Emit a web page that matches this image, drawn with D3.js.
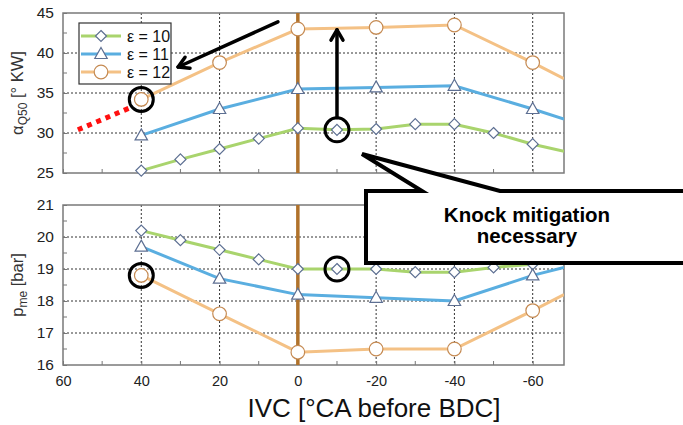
<!DOCTYPE html>
<html><head><meta charset="utf-8">
<script src="https://cdn.jsdelivr.net/npm/d3@7"></script>
<style>
body{margin:0;background:#fff}
svg{display:block;font-family:"Liberation Sans",Arial,sans-serif}
</style>
</head><body><svg id="chart" width="683" height="425"></svg>
<script>
// IVC timing in °CA before BDC. The last value of each series continues the curve to the axis edge (no marker).
const ivcFine   = [40, 30, 20, 10, 0, -10, -20, -30, -40, -50, -60, -68];
const ivcCoarse = [40, 20, 0, -20, -40, -60, -68];

// 50 % mass fraction burned point, ° KW
const alphaE10 = [25.3, 26.7, 28.0, 29.3, 30.6, 30.4, 30.5, 31.1, 31.1, 30.0, 28.6, 27.7];
const alphaE11 = [29.7, 33.0, 35.5, 35.7, 35.9, 33.0, 31.75];
const alphaE12 = [34.2, 38.8, 43.0, 43.2, 43.5, 38.8, 36.8];

// Mean effective pressure, bar
const pmeE10 = [20.2, 19.9, 19.6, 19.3, 19.0, 19.0, 19.0, 18.9, 18.9, 19.05, 19.15, 19.25];
const pmeE11 = [19.7, 18.7, 18.2, 18.1, 18.0, 18.8, 19.05];
const pmeE12 = [18.8, 17.6, 16.4, 16.5, 16.5, 17.7, 18.2];

const seriesNames = ["ε = 10", "ε = 11", "ε = 12"];

const xTicks = [60, 40, 20, 0, -20, -40, -60];
const xMinor = [50, 30, 10, -10, -30, -50];
const alphaTicks = [25, 30, 35, 40, 45];
const alphaMinor = [27.5, 32.5, 37.5, 42.5];
const pmeTicks = [16, 17, 18, 19, 20, 21];
const pmeMinor = [16.5, 17.5, 18.5, 19.5, 20.5];

// Extrapolated trend of the ε = 12 αQ50 curve towards earlier IVC
const trendIvc = [56.2, 42.4];
const trendAlpha = [30.4, 33.25];

const svg = d3.select("#chart");
const L = 63, R = 564;
const top1 = 13, bot1 = 173, top2 = 205, bot2 = 365;

const x = d3.scaleLinear().domain([60, -68]).range([L, R]);
const yA = d3.scaleLinear().domain([25, 45]).range([bot1, top1]);
const yP = d3.scaleLinear().domain([16, 21]).range([bot2, top2]);

// plain hyphen-minus labels
const fmt = d => String(d);

const style = [
  {line: "#a9d46d", stroke: "#5d6f92", shape: "diamond"},
  {line: "#5aaee0", stroke: "#5d6f92", shape: "triangle"},
  {line: "#f4c185", stroke: "#c58a52", shape: "circle"}
];

function markerPath(shape) {
  if (shape === "diamond") return "M0,-5.5L5.5,0L0,5.5L-5.5,0Z";
  if (shape === "triangle") return "M0,-6.5L6.2,4.5L-6.2,4.5Z";
  return d3.symbol(d3.symbolCircle, Math.PI * 6.8 * 6.8)();
}

const defs = svg.append("defs");
[["clipA", top1, bot1], ["clipP", top2, bot2]].forEach(([id, t, b]) => {
  defs.append("clipPath").attr("id", id).append("rect")
    .attr("x", L).attr("y", t).attr("width", R - L).attr("height", b - t);
});

function panel(yScale, t, b, ticks, minor, clipId, data, showXLabels) {
  const g = svg.append("g");
  // grid
  g.selectAll(".gx").data(xTicks.filter(v => v < 60 && v > -68)).join("line")
    .attr("x1", d => x(d)).attr("x2", d => x(d)).attr("y1", t).attr("y2", b)
    .attr("stroke", "#333").attr("stroke-width", 1).attr("stroke-dasharray", "2,2");
  g.selectAll(".gy").data(ticks.slice(1, -1)).join("line")
    .attr("x1", L).attr("x2", R).attr("y1", d => yScale(d)).attr("y2", d => yScale(d))
    .attr("stroke", "#333").attr("stroke-width", 1).attr("stroke-dasharray", "2,2");

  // y axis
  const ay = g.append("g").attr("transform", `translate(${L},0)`)
    .call(d3.axisLeft(yScale).tickValues(ticks).tickFormat(fmt)
      .tickSizeInner(-4).tickSizeOuter(0).tickPadding(9));
  ay.select(".domain").remove();
  ay.selectAll("line").attr("stroke", "#777");
  ay.selectAll("text").attr("font-size", 15.5).attr("fill", "#222");
  g.selectAll(".my").data(minor).join("line")
    .attr("x1", L).attr("x2", L + 4).attr("y1", d => yScale(d)).attr("y2", d => yScale(d))
    .attr("stroke", "#777");

  // x axis
  const ax = g.append("g").attr("transform", `translate(0,${b})`)
    .call(d3.axisBottom(x).tickValues(xTicks).tickFormat(fmt)
      .tickSizeInner(-4).tickSizeOuter(0).tickPadding(11));
  ax.select(".domain").remove();
  ax.selectAll("line").attr("stroke", "#777");
  ax.selectAll("text").attr("font-size", 14.5).attr("fill", "#222")
    .attr("display", showXLabels ? null : "none");
  g.selectAll(".mx").data(xMinor).join("line")
    .attr("x1", d => x(d)).attr("x2", d => x(d)).attr("y1", b).attr("y2", b - 4)
    .attr("stroke", "#777");

  // frame
  g.append("rect").attr("x", L).attr("y", t).attr("width", R - L).attr("height", b - t)
    .attr("fill", "none").attr("stroke", "#7a7a7a").attr("stroke-width", 1.5);

  // reference line at IVC = 0
  g.append("line").attr("x1", x(0)).attr("x2", x(0)).attr("y1", t).attr("y2", b)
    .attr("stroke", "#b0722b").attr("stroke-width", 3.5);

  const line = d3.line().x(d => x(d[0])).y(d => yScale(d[1]));
  data.forEach((s, i) => {
    const pts = s.xs.map((v, k) => [v, s.ys[k]]);
    g.append("path").datum(pts).attr("d", line).attr("clip-path", `url(#${clipId})`)
      .attr("fill", "none").attr("stroke", style[i].line).attr("stroke-width", 3);
    g.selectAll(null).data(pts.slice(0, -1)).join("path")
      .attr("transform", d => `translate(${x(d[0])},${yScale(d[1])})`)
      .attr("d", markerPath(style[i].shape))
      .attr("fill", "#fff").attr("stroke", style[i].stroke).attr("stroke-width", 1.2);
  });
  return g;
}

panel(yA, top1, bot1, alphaTicks, alphaMinor, "clipA", [
  {xs: ivcFine, ys: alphaE10}, {xs: ivcCoarse, ys: alphaE11}, {xs: ivcCoarse, ys: alphaE12}
], false);
panel(yP, top2, bot2, pmeTicks, pmeMinor, "clipP", [
  {xs: ivcFine, ys: pmeE10}, {xs: ivcCoarse, ys: pmeE11}, {xs: ivcCoarse, ys: pmeE12}
], true);

// axis titles
const tA = svg.append("text").attr("transform", `translate(23,${(top1 + bot1) / 2}) rotate(-90)`)
  .attr("text-anchor", "middle").attr("font-size", 16.5).attr("fill", "#333");
tA.append("tspan").text("α");
tA.append("tspan").attr("font-size", 12).attr("dy", 4).text("Q50");
tA.append("tspan").attr("dy", -4).text(" [° KW]");

const tP = svg.append("text").attr("transform", `translate(23,${(top2 + bot2) / 2}) rotate(-90)`)
  .attr("text-anchor", "middle").attr("font-size", 16.5).attr("fill", "#333");
tP.append("tspan").text("p");
tP.append("tspan").attr("font-size", 12).attr("dy", 4).text("me");
tP.append("tspan").attr("dy", -4).text(" [bar]");

svg.append("text").attr("x", 374).attr("y", 417).attr("text-anchor", "middle")
  .attr("font-size", 26).attr("fill", "#111").text("IVC [°CA before BDC]");

// legend
const lg = svg.append("g").attr("transform", "translate(79,23)");
lg.append("rect").attr("width", 92).attr("height", 61).attr("fill", "#fff")
  .attr("stroke", "#333").attr("stroke-width", 1.2);
seriesNames.forEach((n, i) => {
  const yy = 13 + i * 18;
  lg.append("line").attr("x1", 2).attr("x2", 42).attr("y1", yy).attr("y2", yy)
    .attr("stroke", style[i].line).attr("stroke-width", 3);
  lg.append("path").attr("transform", `translate(22,${yy})`).attr("d", markerPath(style[i].shape))
    .attr("fill", "#fff").attr("stroke", style[i].stroke).attr("stroke-width", 1.2);
  lg.append("text").attr("x", 48).attr("y", yy + 6).attr("font-size", 16).attr("fill", "#111").text(n);
});

// trend extension (red dotted)
svg.append("line")
  .attr("x1", x(trendIvc[0])).attr("y1", yA(trendAlpha[0]))
  .attr("x2", x(trendIvc[1])).attr("y2", yA(trendAlpha[1]))
  .attr("stroke", "#ff1010").attr("stroke-width", 5).attr("stroke-dasharray", "5,5");

// highlighted operating points
[[yA, 40, alphaE12[0]], [yA, -10, alphaE10[5]], [yP, 40, pmeE12[0]], [yP, -10, pmeE10[5]]]
  .forEach(([ys, xv, yv]) => {
    svg.append("circle").attr("cx", x(xv)).attr("cy", ys(yv)).attr("r", 12)
      .attr("fill", "none").attr("stroke", "#000").attr("stroke-width", 3);
  });

// arrows
function arrow(x1, y1, x2, y2) {
  const a = Math.atan2(y2 - y1, x2 - x1), h = 12, s = Math.PI / 6;
  const g = svg.append("g").attr("stroke", "#000").attr("stroke-width", 3.5)
    .attr("fill", "none").attr("stroke-linecap", "round").attr("stroke-linejoin", "round");
  g.append("line").attr("x1", x1).attr("y1", y1).attr("x2", x2).attr("y2", y2);
  g.append("path").attr("d",
    `M${x2 - h * Math.cos(a - s)},${y2 - h * Math.sin(a - s)}L${x2},${y2}L${x2 - h * Math.cos(a + s)},${y2 - h * Math.sin(a + s)}`);
}
arrow(x(5.1), yA(43.9), x(30.6), yA(38.25));
arrow(x(-10), yA(31.9), x(-10), yA(42.9));

// callout
const tipX = 362, tipY = 154, bx = 366, bt = 191, bb = 263;
svg.append("path")
  .attr("d", `M${bx},${bt}L422,${bt}L${tipX},${tipY}L500,${bt}L690,${bt}L690,${bb}L${bx},${bb}Z`)
  .attr("fill", "#fff").attr("stroke", "#000").attr("stroke-width", 4).attr("stroke-linejoin", "miter");
svg.append("text").attr("x", 527).attr("y", 222).attr("text-anchor", "middle")
  .attr("font-size", 20.5).attr("font-weight", "bold").attr("fill", "#000").text("Knock mitigation");
svg.append("text").attr("x", 527).attr("y", 243).attr("text-anchor", "middle")
  .attr("font-size", 20.5).attr("font-weight", "bold").attr("fill", "#000").text("necessary");
</script>
</body></html>
